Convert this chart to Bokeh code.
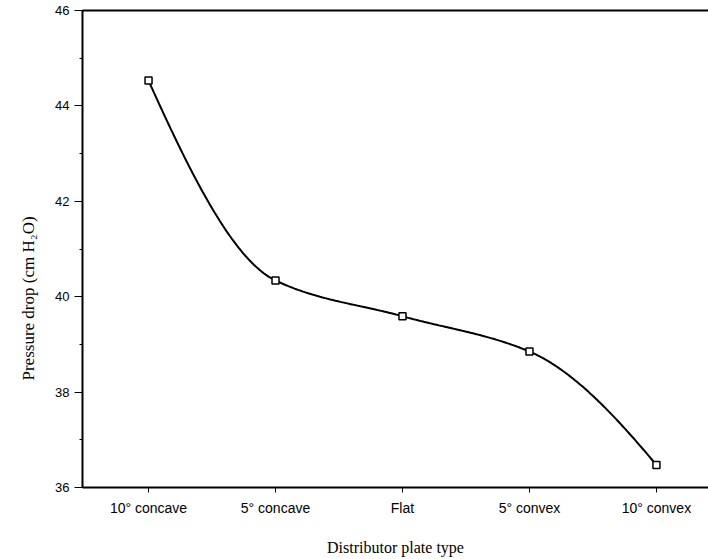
import numpy as np
from bokeh.plotting import figure
from bokeh.models import FixedTicker, SingleIntervalTicker, LinearAxis, Range1d, Title
from bokeh.embed import file_html
from bokeh.resources import INLINE

categories = ["10° concave", "5° concave", "Flat", "5° convex", "10° convex"]
positions = [1, 2, 3, 4, 5]
pressure_drop = [44.53, 40.34, 39.59, 38.85, 36.47]


def pchip(x, y, xs):
    x = np.asarray(x, float); y = np.asarray(y, float)
    h = np.diff(x); d = np.diff(y) / h
    n = len(x); m = np.zeros(n)
    for i in range(1, n - 1):
        if d[i - 1] * d[i] > 0:
            w1 = 2 * h[i] + h[i - 1]; w2 = h[i] + 2 * h[i - 1]
            m[i] = (w1 + w2) / (w1 / d[i - 1] + w2 / d[i])
    m[0] = ((2 * h[0] + h[1]) * d[0] - h[0] * d[1]) / (h[0] + h[1])
    m[-1] = ((2 * h[-1] + h[-2]) * d[-1] - h[-1] * d[-2]) / (h[-1] + h[-2])
    out = np.empty_like(xs)
    for k, xv in enumerate(xs):
        i = min(np.searchsorted(x, xv, side="right") - 1, n - 2)
        t = (xv - x[i]) / h[i]
        h00 = 2 * t**3 - 3 * t**2 + 1; h10 = t**3 - 2 * t**2 + t
        h01 = -2 * t**3 + 3 * t**2; h11 = t**3 - t**2
        out[k] = h00 * y[i] + h10 * h[i] * m[i] + h01 * y[i + 1] + h11 * h[i] * m[i + 1]
    return out


xs = np.linspace(positions[0], positions[-1], 300)
ys = pchip(positions, pressure_drop, xs)

p = figure(width=708, height=559, output_backend="svg", toolbar_location=None,
           x_range=Range1d(0.48, 5.41), y_range=Range1d(36, 46),
           min_border_left=82, min_border_right=0, min_border_top=10,
           min_border_bottom=72)
p.outline_line_color = None
p.xgrid.visible = False
p.ygrid.visible = False
p.background_fill_color = "white"
p.border_fill_color = "white"

p.line(xs, ys, line_color="black", line_width=2)
p.scatter(positions, pressure_drop, marker="square", size=7,
          fill_color="white", line_color="black", line_width=1.5)

tick_font = "Liberation Sans"
title_font = "Liberation Serif"

xa = p.xaxis[0]
xa.ticker = FixedTicker(ticks=positions)
xa.major_label_overrides = {pos: lab for pos, lab in zip(positions, categories)}
xa.axis_line_width = 2
xa.axis_line_color = "black"
xa.major_tick_line_color = "black"
xa.major_tick_out = 5
xa.major_tick_in = 0
xa.minor_tick_line_color = None
xa.major_label_text_font = tick_font
xa.major_label_text_font_size = "14px"
xa.major_label_text_color = "black"
xa.major_label_standoff = 7
xa.axis_label = "Distributor plate type"
xa.axis_label_text_font = title_font
xa.axis_label_text_font_style = "normal"
xa.axis_label_text_font_size = "16px"
xa.axis_label_text_color = "black"
xa.axis_label_standoff = 20

ya = p.yaxis[0]
ya.ticker = SingleIntervalTicker(interval=2, num_minor_ticks=2)
ya.axis_line_width = 2
ya.axis_line_color = "black"
ya.major_tick_line_color = "black"
ya.minor_tick_line_color = "black"
ya.major_tick_out = 8
ya.major_tick_in = 0
ya.minor_tick_out = 3
ya.minor_tick_in = 0
ya.major_label_text_font = tick_font
ya.major_label_text_font_size = "13px"
ya.major_label_text_color = "black"
ya.major_label_standoff = 5

ytitle = Title(text="Pressure drop (cm H₂O)", align="left", offset=107,
               text_font=title_font, text_font_size="17px",
               text_font_style="normal", text_color="black", standoff=30)
p.add_layout(ytitle, "left")

top = LinearAxis(ticker=FixedTicker(ticks=[]), major_tick_line_color=None,
                 minor_tick_line_color=None, axis_line_width=2,
                 axis_line_color="black")
p.add_layout(top, "above")

open("out.html", "w").write(file_html(p, INLINE))
